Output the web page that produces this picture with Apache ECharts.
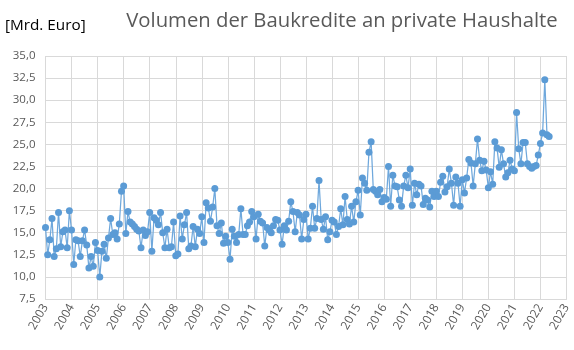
<!DOCTYPE html>
<html>
<head>
<meta charset="utf-8">
<script src="https://cdn.jsdelivr.net/npm/echarts@6/dist/echarts.min.js"></script>
<style>
html,body{margin:0;padding:0;background:#fff;}
#chart{width:574px;height:350px;}
</style>
</head>
<body>
<div id="chart"></div>
<script>
// Monthly values (Mrd. Euro), January 2003 onward
var firstYear = 2003;
var values2003 = [15.6, 12.5, 14.2, 16.6, 12.3, 13.2, 17.3, 13.4, 15.1, 15.3, 13.3, 17.5];
var values2004 = [15.3, 11.4, 14.2, 14.1, 12.3, 14.1, 15.3, 13.6, 11.0, 12.3, 11.2, 13.9];
var values2005 = [13.0, 10.0, 12.9, 13.7, 12.1, 14.4, 16.6, 14.8, 15.0, 14.3, 16.0, 19.7];
var values2006 = [20.3, 14.9, 17.4, 16.2, 16.0, 15.7, 15.4, 15.2, 13.3, 15.3, 14.7, 15.1];
var values2007 = [17.3, 12.9, 16.7, 16.4, 15.9, 17.3, 15.0, 13.3, 15.4, 13.3, 13.4, 16.2];
var values2008 = [12.4, 12.6, 16.9, 14.3, 15.9, 17.3, 13.2, 13.5, 15.7, 13.4, 15.4, 14.9];
var values2009 = [16.8, 13.9, 18.4, 17.8, 16.3, 17.9, 20.0, 15.8, 14.9, 16.1, 13.8, 14.6];
var values2010 = [13.9, 12.0, 15.4, 14.6, 13.9, 14.8, 17.7, 14.8, 14.8, 15.8, 16.2, 17.4];
var values2011 = [16.8, 14.3, 17.1, 16.3, 16.1, 13.5, 15.6, 15.3, 15.0, 15.8, 16.5, 16.4];
var values2012 = [15.3, 13.7, 15.8, 15.3, 16.3, 18.5, 17.4, 15.1, 17.3, 17.0, 14.3, 16.5];
var values2013 = [17.1, 14.3, 15.5, 18.0, 15.5, 16.6, 20.9, 16.5, 15.4, 16.8, 14.2, 15.1];
var values2014 = [16.4, 16.2, 14.8, 15.7, 17.7, 15.9, 19.1, 16.5, 16.0, 18.0, 16.2, 18.5];
var values2015 = [19.8, 17.0, 21.2, 20.6, 19.8, 24.1, 25.3, 19.9, 19.7, 19.3, 19.9, 18.5];
var values2016 = [19.0, 18.8, 22.5, 18.0, 21.5, 20.3, 20.2, 18.7, 18.0, 20.3, 21.5, 20.1];
var values2017 = [22.2, 18.1, 20.6, 19.3, 20.5, 20.3, 18.2, 18.9, 18.7, 17.9, 19.7, 19.1];
var values2018 = [19.7, 19.1, 20.7, 21.4, 19.6, 20.2, 22.2, 20.6, 18.1, 21.3, 20.6, 18.0];
var values2019 = [21.0, 19.5, 21.2, 23.3, 22.9, 20.3, 22.8, 25.6, 23.2, 22.0, 23.1, 22.1];
var values2020 = [20.1, 21.9, 20.5, 25.3, 24.6, 22.4, 24.4, 22.8, 21.3, 21.8, 23.2, 22.2];
var values2021 = [22.0, 28.6, 24.5, 22.8, 25.2, 25.2, 22.8, 22.5, 22.3, 22.5, 22.6, 23.8];
var values2022 = [25.1, 26.3, 32.3, 26.1, 25.9];

var yearTicks = ['2003','2004','2005','2006','2007','2008','2009','2010','2011','2012','2013','2014','2015','2016','2017','2018','2019','2020','2021','2022','2023'];

var monthly = [].concat(values2003, values2004, values2005, values2006, values2007,
  values2008, values2009, values2010, values2011, values2012, values2013, values2014,
  values2015, values2016, values2017, values2018, values2019, values2020, values2021, values2022);

var seriesData = monthly.map(function (v, i) { return [firstYear + i / 12, v]; });

var chart = echarts.init(document.getElementById('chart'), null, {renderer: 'canvas'});
var grey = '#d9d9d9';
var txt = '#595959';
chart.setOption({
  animation: false,
  backgroundColor: '#ffffff',
  title: {
    text: 'Volumen der Baukredite an private Haushalte',
    left: 337, top: 6, textAlign: 'center',
    textStyle: {fontFamily: 'Open Sans', fontWeight: 'normal', fontSize: 20.3, color: txt}
  },
  graphic: [{
    type: 'text', left: 5, top: 18,
    style: {text: '[Mrd. Euro]', fontFamily: 'Open Sans', fontSize: 15.3, fill: '#000000'}
  }],
  grid: {left: 45.5, right: 7.5, top: 56, bottom: 51, containLabel: false},
  xAxis: {
    type: 'value', min: 2003, max: 2023, interval: 1,
    axisLine: {show: true, lineStyle: {color: grey}},
    axisTick: {show: false},
    splitLine: {show: true, lineStyle: {color: grey, width: 1}},
    axisLabel: {
      rotate: 60, margin: 6, color: txt, fontFamily: 'Open Sans', fontSize: 12,
      formatter: function (v) { return yearTicks[Math.round(v - 2003)]; }
    }
  },
  yAxis: {
    type: 'value', min: 7.5, max: 35, interval: 2.5,
    axisLine: {show: false}, axisTick: {show: false},
    splitLine: {show: true, lineStyle: {color: grey, width: 1}},
    axisLabel: {
      margin: 10, color: txt, fontFamily: 'Open Sans', fontSize: 11.5,
      formatter: function (v) { return v.toFixed(1).replace('.', ','); }
    }
  },
  series: [{
    type: 'line', data: seriesData,
    symbol: 'circle', symbolSize: 7, showSymbol: true,
    lineStyle: {color: '#6fa8dc', width: 1.25},
    itemStyle: {color: '#5b9bd5'}
  }]
});
</script>
</body>
</html>
